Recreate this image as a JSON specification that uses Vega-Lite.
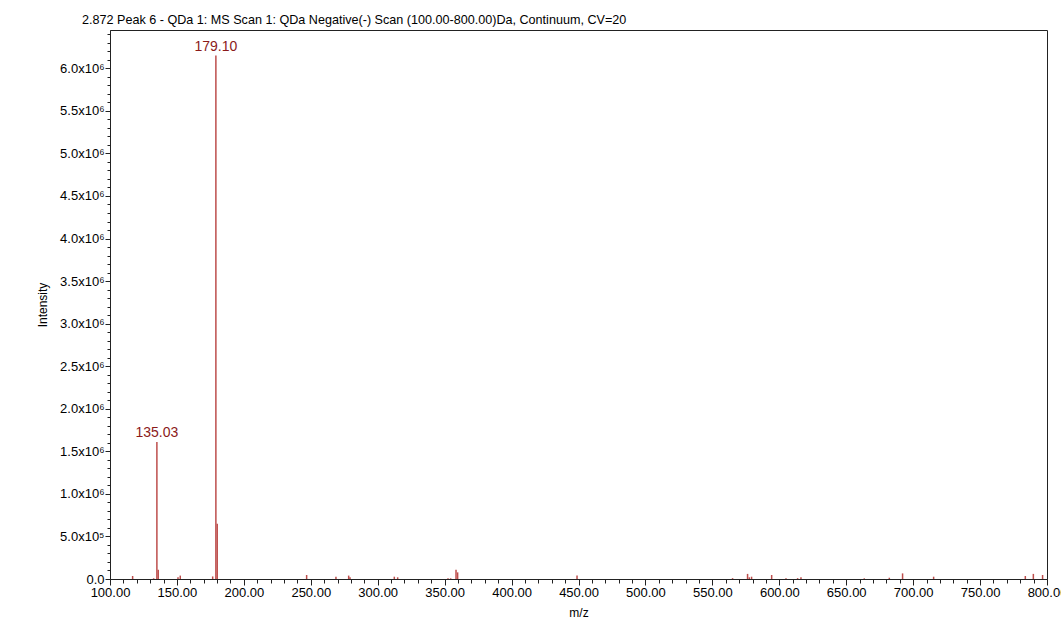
{
  "$schema": "https://vega.github.io/schema/vega-lite/v6.json",
  "autosize": {"type": "none"},
  "padding": {"left": 110, "top": 30, "right": 14, "bottom": 64},
  "width": 937,
  "height": 549,
  "background": "#ffffff",
  "title": {
    "text": "2.872 Peak 6 - QDa 1: MS Scan 1: QDa Negative(-) Scan (100.00-800.00)Da, Continuum, CV=20",
    "anchor": "start",
    "frame": "group",
    "dx": -28,
    "offset": 3,
    "font": "Liberation Sans",
    "fontSize": 12.6,
    "fontWeight": "normal",
    "color": "#000000"
  },
  "config": {
    "view": {"stroke": "#222222", "strokeWidth": 1},
    "axis": {
      "labelFont": "Liberation Sans",
      "titleFont": "Liberation Sans",
      "labelColor": "#000000",
      "titleColor": "#000000",
      "domainColor": "#222222",
      "tickColor": "#222222",
      "grid": false
    }
  },
  "data": {
    "values": [
      {"mz": 116.9, "intensity": 35000},
      {"mz": 132.6, "intensity": 8000},
      {"mz": 135.03, "intensity": 1610000, "label": "135.03"},
      {"mz": 136.03, "intensity": 110000},
      {"mz": 150.8, "intensity": 20000},
      {"mz": 152.5, "intensity": 40000},
      {"mz": 176.7, "intensity": 30000},
      {"mz": 179.1, "intensity": 6150000, "label": "179.10"},
      {"mz": 180.1, "intensity": 650000},
      {"mz": 246.9, "intensity": 47000},
      {"mz": 268.8, "intensity": 27000},
      {"mz": 278.3, "intensity": 40000},
      {"mz": 279.3, "intensity": 20000},
      {"mz": 312.4, "intensity": 27000},
      {"mz": 314.9, "intensity": 20000},
      {"mz": 352.5, "intensity": 8000},
      {"mz": 354.5, "intensity": 8000},
      {"mz": 358.5, "intensity": 110000},
      {"mz": 359.7, "intensity": 78000},
      {"mz": 448.9, "intensity": 40000},
      {"mz": 565.1, "intensity": 10000},
      {"mz": 576.3, "intensity": 60000},
      {"mz": 577.6, "intensity": 20000},
      {"mz": 579.3, "intensity": 27000},
      {"mz": 594.3, "intensity": 47000},
      {"mz": 605.0, "intensity": 10000},
      {"mz": 613.7, "intensity": 10000},
      {"mz": 616.2, "intensity": 20000},
      {"mz": 663.5, "intensity": 8000},
      {"mz": 682.2, "intensity": 15000},
      {"mz": 692.1, "intensity": 66000},
      {"mz": 715.3, "intensity": 27000},
      {"mz": 783.8, "intensity": 35000},
      {"mz": 789.8, "intensity": 60000},
      {"mz": 796.7, "intensity": 47000}
    ]
  },
  "resolve": {"axis": {"x": "independent", "y": "independent"}},
  "layer": [
    {
      "mark": {"type": "rule", "color": "#bd4e4c", "strokeWidth": 1.5},
      "encoding": {
        "x": {
          "field": "mz", "type": "quantitative",
          "scale": {"domain": [100, 800], "nice": false, "zero": false},
          "axis": {
            "title": "m/z", "titleFontSize": 12, "titleFontWeight": "normal", "titlePadding": 8,
            "values": [100, 150, 200, 250, 300, 350, 400, 450, 500, 550, 600, 650, 700, 750, 800],
            "format": ".2f", "labelFontSize": 13, "tickSize": 6, "labelPadding": 1,
            "labelOverlap": false, "labelFlush": false, "orient": "bottom"
          }
        },
        "y": {
          "field": "intensity", "type": "quantitative",
          "scale": {"domain": [0, 6450000], "nice": false},
          "axis": {
            "title": "Intensity", "titleFontSize": 12, "titleFontWeight": "normal", "titlePadding": 10,
            "values": [0, 500000, 1000000, 1500000, 2000000, 2500000, 3000000, 3500000, 4000000, 4500000, 5000000, 5500000, 6000000],
            "labelExpr": "datum.value == 0 ? '0.0' : (datum.value >= 1000000 ? format(datum.value/1000000, '.1f') + 'x10⁶' : format(datum.value/100000, '.1f') + 'x10⁵')",
            "labelFontSize": 13, "tickSize": 5, "labelPadding": 1, "labelOverlap": false, "orient": "left"
          }
        },
        "y2": {"datum": 0}
      }
    },
    {
      "transform": [{"filter": "datum.label != null"}],
      "mark": {"type": "text", "color": "#8b1a1a", "fontSize": 14, "font": "Liberation Sans", "baseline": "bottom", "dy": -2},
      "encoding": {
        "x": {
          "field": "mz", "type": "quantitative",
          "axis": {
            "orient": "bottom", "title": null, "labels": false, "domain": false,
            "values": [110, 120, 130, 140, 160, 170, 180, 190, 210, 220, 230, 240, 260, 270, 280, 290, 310, 320, 330, 340, 360, 370, 380, 390, 410, 420, 430, 440, 460, 470, 480, 490, 510, 520, 530, 540, 560, 570, 580, 590, 610, 620, 630, 640, 660, 670, 680, 690, 710, 720, 730, 740, 760, 770, 780, 790],
            "tickSize": 4
          }
        },
        "y": {
          "field": "intensity", "type": "quantitative",
          "axis": {
            "orient": "left", "title": null, "labels": false, "domain": false,
            "values": [100000, 200000, 300000, 400000, 600000, 700000, 800000, 900000, 1100000, 1200000, 1300000, 1400000, 1600000, 1700000, 1800000, 1900000, 2100000, 2200000, 2300000, 2400000, 2600000, 2700000, 2800000, 2900000, 3100000, 3200000, 3300000, 3400000, 3600000, 3700000, 3800000, 3900000, 4100000, 4200000, 4300000, 4400000, 4600000, 4700000, 4800000, 4900000, 5100000, 5200000, 5300000, 5400000, 5600000, 5700000, 5800000, 5900000, 6100000, 6200000, 6300000, 6400000],
            "tickSize": 3
          }
        },
        "text": {"field": "label"}
      }
    }
  ]
}
